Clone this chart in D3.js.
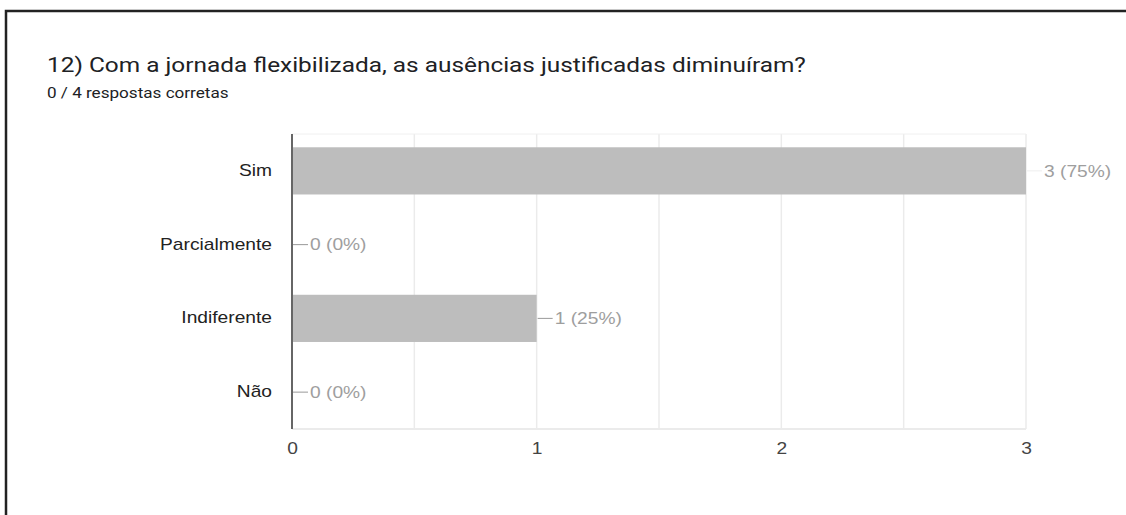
<!DOCTYPE html>
<meta charset="utf-8">
<style>
  body { margin: 0; background: #fff; }
  svg { display: block; }
  .tick-x text { font: 16px "Liberation Sans", Arial, sans-serif; fill: #444; }
  .cat text { font: 16px "Liberation Sans", Arial, sans-serif; fill: #222; }
</style>
<body></body>
<script src="https://d3js.org/d3.v7.min.js"></script>
<script>
  var categories = ["Sim", "Parcialmente", "Indiferente", "Não"];
  var counts = [3, 0, 1, 0];
  var percents = ["75%", "0%", "25%", "0%"];
  var xTicks = [0, 1, 2, 3];
  var title = "12) Com a jornada flexibilizada, as ausências justificadas diminuíram?";
  var subtitle = "0 / 4 respostas corretas";

  var W = 1126, H = 515;
  var sx = 1.2; // the source screenshot is stretched sideways
  var plot = { left: 292, right: 1026, top: 134, bottom: 429 };

  var svg = d3.select("body").append("svg")
    .attr("width", W)
    .attr("height", H);

  // frame
  svg.append("path")
    .attr("d", "M6," + H + "V11H" + W)
    .attr("fill", "none")
    .attr("stroke", "#222")
    .attr("stroke-width", 2.5);

  svg.append("text")
    .attr("transform", "translate(47,72) scale(1.22,1)")
    .style("font", "20px Roboto, sans-serif")
    .style("fill", "#202124")
    .text(title);

  svg.append("text")
    .attr("transform", "translate(47,98) scale(1.18,1)")
    .style("font", "14.5px Roboto, sans-serif")
    .style("fill", "#202124")
    .text(subtitle);

  var x = d3.scaleLinear().domain([0, 3]).range([plot.left, plot.right]);
  var y = d3.scaleBand().domain(categories).range([plot.top, plot.bottom]).paddingInner(0.36).paddingOuter(0.18);

  // gridlines every 0.5
  svg.append("g").selectAll("line")
    .data(d3.range(0.5, 3.01, 0.5))
    .enter().append("line")
    .attr("x1", function(d) { return x(d); })
    .attr("x2", function(d) { return x(d); })
    .attr("y1", plot.top)
    .attr("y2", plot.bottom)
    .attr("stroke", "#ebebeb")
    .attr("stroke-width", 1.5);

  svg.append("line")
    .attr("x1", plot.left).attr("x2", plot.right)
    .attr("y1", plot.top).attr("y2", plot.top)
    .attr("stroke", "#f0f0f0");
  svg.append("line")
    .attr("x1", plot.left).attr("x2", plot.right)
    .attr("y1", plot.bottom).attr("y2", plot.bottom)
    .attr("stroke", "#ebebeb")
    .attr("stroke-width", 2);

  var data = categories.map(function(c, i) {
    return { cat: c, v: counts[i], pct: percents[i] };
  });

  svg.append("g").selectAll("rect")
    .data(data)
    .enter().append("rect")
    .attr("x", x(0))
    .attr("y", function(d) { return y(d.cat); })
    .attr("width", function(d) { return x(d.v) - x(0); })
    .attr("height", y.bandwidth())
    .attr("fill", "#bdbdbd");

  // leader lines + value labels
  var lab = svg.append("g");
  lab.selectAll("line")
    .data(data)
    .enter().append("line")
    .attr("x1", function(d) { return x(d.v) + 1; })
    .attr("x2", function(d) { return x(d.v) + 16; })
    .attr("y1", function(d) { return y(d.cat) + y.bandwidth() / 2; })
    .attr("y2", function(d) { return y(d.cat) + y.bandwidth() / 2; })
    .attr("stroke", function(d) { return d.v === 3 ? "#eee" : "#999"; });
  lab.selectAll("text")
    .data(data)
    .enter().append("text")
    .attr("transform", function(d) {
      return "translate(" + (x(d.v) + 18) + "," + (y(d.cat) + y.bandwidth() / 2) + ") scale(" + sx + ",1)";
    })
    .attr("dy", "0.36em")
    .style("font", "16px 'Liberation Sans', Arial, sans-serif")
    .style("fill", "#9e9e9e")
    .text(function(d) { return d.v + " (" + d.pct + ")"; });

  // category axis
  var yAxis = d3.axisLeft(y).tickSize(0).tickPadding(20);
  var gy = svg.append("g")
    .attr("class", "cat")
    .attr("transform", "translate(" + plot.left + ",0)")
    .call(yAxis);
  gy.select(".domain").remove();
  gy.selectAll("text")
    .attr("x", -20 / sx)
    .attr("transform", "scale(" + sx + ",1)");
  svg.append("line")
    .attr("x1", plot.left).attr("x2", plot.left)
    .attr("y1", plot.top).attr("y2", plot.bottom)
    .attr("stroke", "#666")
    .attr("stroke-width", 2);

  // value axis
  var xAxis = d3.axisBottom(x).tickValues(xTicks).tickFormat(d3.format("d")).tickSize(0).tickPadding(14);
  var gx = svg.append("g")
    .attr("class", "tick-x")
    .attr("transform", "translate(0," + plot.bottom + ")")
    .call(xAxis);
  gx.select(".domain").remove();
  gx.selectAll("text").attr("transform", "scale(" + sx + ",1)");
</script>
